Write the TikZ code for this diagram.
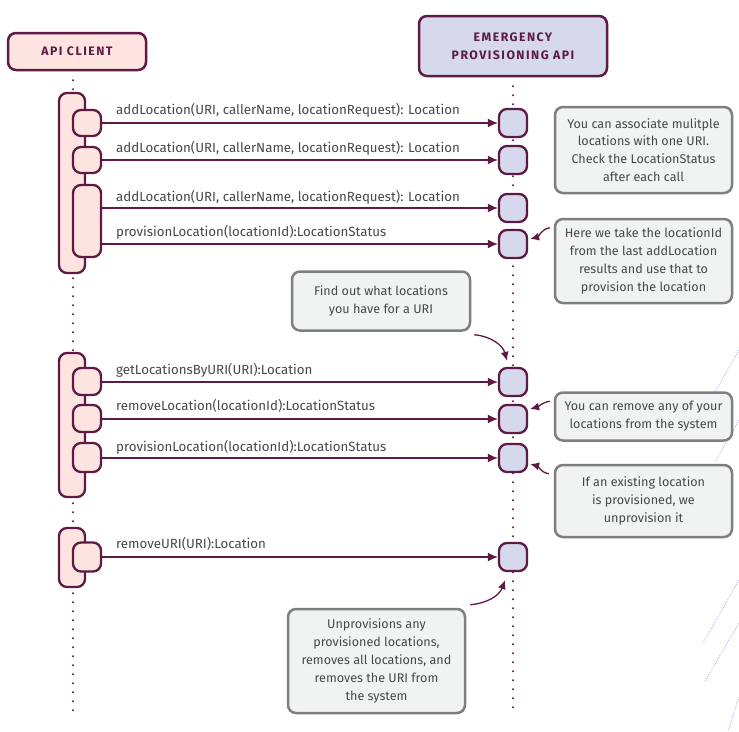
\documentclass[tikz,border=0pt]{standalone}
\usepackage{fontspec}
\setmainfont{Fira Sans}
\newfontfamily\titlefont[LetterSpace=12]{Fira Sans}
\usetikzlibrary{arrows.meta}
\definecolor{maroon}{HTML}{5E1A44}
\definecolor{pinkf}{HTML}{FDE4E1}
\definecolor{lavf}{HTML}{D6D9EB}
\definecolor{notefill}{HTML}{F1F3F2}
\definecolor{notedraw}{HTML}{7F7F7F}
\definecolor{txtgray}{HTML}{474747}
\definecolor{faintblue}{HTML}{AAB6EA}
\tikzset{
  actor/.style={draw=maroon, line width=2.5pt, rounded corners=8pt, align=center, text=maroon,
    font=\titlefont\bfseries\fontsize{12.3}{18.5}\selectfont, inner sep=0pt},
  actbar/.style={draw=maroon, fill=pinkf, line width=2.3pt, rounded corners=8pt, inner sep=0pt, minimum width=26pt},
  cbox/.style={draw=maroon, fill=pinkf, line width=2.3pt, rounded corners=8pt, inner sep=0pt, minimum width=28pt},
  sbox/.style={draw=maroon, fill=lavf, line width=2.3pt, rounded corners=8pt, inner sep=0pt, minimum width=28pt, minimum height=28pt},
  callarrow/.style={draw=maroon, line width=1.3pt, -{Latex[length=10pt,width=9pt]}},
  lbl/.style={anchor=base west, text=txtgray, inner sep=0pt, font=\fontsize{13.3}{15}\selectfont},
  lifeline/.style={draw=maroon, line width=2.3pt, line cap=round, dash pattern=on 0pt off 9pt},
  note/.style={draw=notedraw, fill=notefill, line width=2.5pt, rounded corners=8pt, align=center, text=txtgray,
    font=\fontsize{12.6}{17.8}\selectfont, inner sep=0pt, minimum width=177pt},
  notearrow/.style={draw=maroon, line width=1.3pt, -{Latex[length=9pt,width=8pt]}},
  faint/.style={draw=faintblue, line width=0.8pt, dash pattern=on 1pt off 1.2pt}
}
\begin{document}
\begin{tikzpicture}[x=1pt,y=-1pt]
\useasboundingbox (0,0) rectangle (739,731);
% faint background lines
\draw[faint] (739,350) -- (715,392);
\draw[faint] (739,420) -- (715,462);
\draw[faint] (739,580) -- (703,643);
\draw[faint] (739,623) -- (705,681);
\draw[faint] (739,697) -- (728,731);
% actors
\node[actor, fill=pinkf, minimum width=138pt, minimum height=37pt] (client) at (77,51.5) {API CLIENT};
\node[actor, fill=lavf, minimum width=188pt, minimum height=60pt] (server) at (513,46) {EMERGENCY\\PROVISIONING API};
% lifelines
\coordinate (cend) at (73,715);
\coordinate (send) at (513,715);
\draw[lifeline] (client.south -| cend) ++(0,9) -- (cend);
\draw[lifeline] (server.south -| send) ++(0,9) -- (send);
% activation bars
\node[actbar, minimum height=180pt] (b1) at (72,183) {};
\node[actbar, minimum height=144pt] (b2) at (72,425) {};
\node[actbar, minimum height=59pt] (b3) at (72,557.5) {};
% client boxes
\node[cbox, minimum height=26pt] (c1) at (87,123) {};
\node[cbox, minimum height=26pt] (c2) at (87,160) {};
\node[cbox, minimum height=72pt] (c3) at (87,221) {};
\node[cbox, minimum height=27pt] (c4) at (87,381.5) {};
\node[cbox, minimum height=27pt] (c5) at (87,418.5) {};
\node[cbox, minimum height=29pt] (c6) at (87,457.5) {};
\node[cbox, minimum height=29pt] (c7) at (87,557) {};
% server boxes
\node[sbox] (s1) at (513,123) {};
\node[sbox] (s2) at (513,160) {};
\node[sbox] (s3) at (513,208) {};
\node[sbox] (s4) at (513,244) {};
\node[sbox] (s5) at (513,382) {};
\node[sbox] (s6) at (513,419) {};
\node[sbox] (s7) at (513,458) {};
\node[sbox] (s8) at (513,557) {};
% calls
\draw[callarrow] (c1.east |- s1) -- (s1.west);
\draw[callarrow] (c2.east |- s2) -- (s2.west);
\draw[callarrow] (c3.east |- s3) -- (s3.west);
\draw[callarrow] (c3.east |- s4) -- (s4.west);
\draw[callarrow] (c4.east |- s5) -- (s5.west);
\draw[callarrow] (c5.east |- s6) -- (s6.west);
\draw[callarrow] (c6.east |- s7) -- (s7.west);
\draw[callarrow] (c7.east |- s8) -- (s8.west);
% labels
\node[lbl] (l1) at (116,114) {addLocation(URI, callerName, locationRequest): Location};
\node[lbl] (l2) at (116,152) {addLocation(URI, callerName, locationRequest): Location};
\node[lbl] (l3) at (116,201) {addLocation(URI, callerName, locationRequest): Location};
\node[lbl] (l4) at (116,236) {provisionLocation(locationId):LocationStatus};
\node[lbl] (l5) at (116,374) {getLocationsByURI(URI):Location};
\node[lbl] (l6) at (116,410) {removeLocation(locationId):LocationStatus};
\node[lbl] (l7) at (116,451) {provisionLocation(locationId):LocationStatus};
\node[lbl] (l8) at (116,548) {removeURI(URI):Location};
% notes
\node[note, minimum height=86pt] (n1) at (643.5,150) {You can associate mulitple\\locations with one URI.\\Check the LocationStatus\\after each call};
\node[note, minimum height=84pt] (n2) at (643.5,261) {Here we take the locationId\\from the last addLocation\\results and use that to\\provision the location};
\node[note, minimum width=178pt, minimum height=59pt] (n3) at (381,301) {Find out what locations\\you have for a URI};
\node[note, minimum height=48pt] (n4) at (643.5,416.5) {You can remove any of your\\locations from the system};
\node[note, minimum height=72pt] (n5) at (643.5,501) {If an existing location\\is provisioned, we\\unprovision it};
\node[note, minimum height=104pt] (n6) at (376.5,661) {Unprovisions any\\provisioned locations,\\removes all locations, and\\removes the URI from\\the system};
% note arrows
\draw[notearrow] ([xshift=-4pt,yshift=-10pt]n2.north west) to[out=190, in=15] ([xshift=2pt,yshift=5pt]s4.east);
\draw[notearrow] ([xshift=3pt,yshift=-3pt]n3.south east) to[out=-5, in=105] ([xshift=-6pt,yshift=6pt]s5.north);
\draw[notearrow] ([xshift=-4pt,yshift=-10pt]n4.north west) to[out=190, in=15] ([xshift=2pt,yshift=10pt]s6.east);
\draw[notearrow] ([xshift=-5pt,yshift=-10pt]n5.north west) to[out=170, in=-15] ([xshift=2pt,yshift=-6pt]s7.east);
\draw[notearrow] ([xshift=4pt,yshift=3pt]n6.north east) to[out=5, in=-110] ([xshift=-8pt,yshift=-8pt]s8.south);
\end{tikzpicture}
\end{document}
